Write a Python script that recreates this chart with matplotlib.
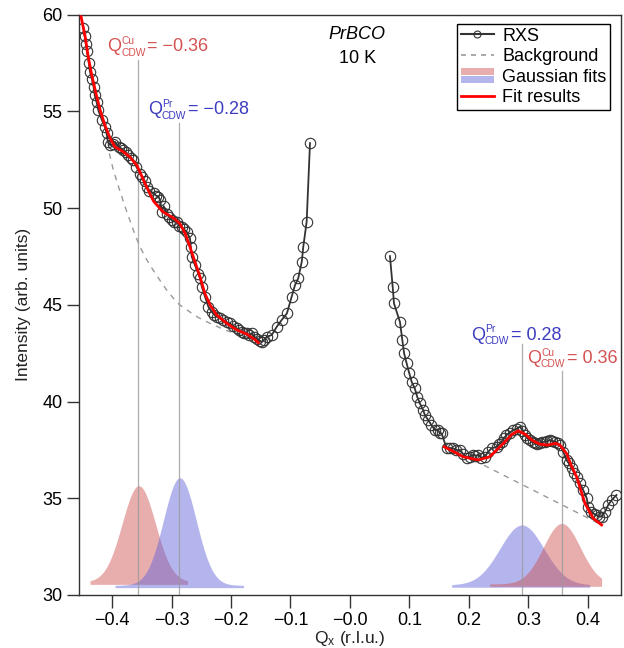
import numpy as np
import matplotlib
matplotlib.use("Agg")
import matplotlib.pyplot as plt
from matplotlib.lines import Line2D
from matplotlib.patches import Patch, Rectangle
from matplotlib.legend_handler import HandlerBase
from matplotlib.transforms import offset_copy

plt.rcParams['font.family'] = ['Liberation Sans', 'DejaVu Sans']
plt.rcParams['mathtext.fontset'] = 'custom'
plt.rcParams['mathtext.rm'] = 'Liberation Sans'
plt.rcParams['mathtext.it'] = 'Liberation Sans:italic'

# RXS data, negative side
q_neg = [-0.448, -0.446, -0.444, -0.442, -0.439, -0.437, -0.434, -0.431, -0.429, -0.426,
         -0.423, -0.417, -0.412, -0.409, -0.407, -0.403, -0.399, -0.395, -0.389, -0.385,
         -0.381, -0.377, -0.373, -0.368, -0.364, -0.359, -0.353, -0.349, -0.345, -0.341,
         -0.337, -0.330, -0.326, -0.322, -0.319, -0.3165, -0.313, -0.308, -0.304, -0.300,
         -0.296, -0.291, -0.287, -0.283, -0.279, -0.2745, -0.269, -0.2675, -0.266, -0.2605,
         -0.255, -0.252, -0.249, -0.2437, -0.238, -0.2324, -0.228, -0.224, -0.219, -0.213,
         -0.207, -0.2017, -0.196, -0.190, -0.186, -0.182, -0.178, -0.1736, -0.169, -0.165,
         -0.161, -0.157, -0.152, -0.148, -0.144, -0.140, -0.1316, -0.123, -0.115, -0.106,
         -0.098, -0.0924, -0.087, -0.081, -0.0785, -0.0728, -0.0672]
i_neg = [59.3, 58.9, 58.5, 58.1, 57.5, 57.05, 56.7, 56.27, 55.84, 55.5,
         55.06, 54.55, 54.2, 53.86, 53.43, 53.26, 53.3, 53.43, 53.17, 53.1,
         53.0, 52.9, 52.74, 52.6, 52.48, 52.13, 51.79, 51.6, 51.4, 51.1,
         50.9, 50.76, 50.65, 50.6, 50.4, 49.81, 50.1, 49.7, 49.55, 49.4,
         49.3, 49.3, 49.1, 49.04, 48.9, 48.78, 48.44, 48.0, 47.49, 47.05,
         46.62, 46.37, 45.93, 45.42, 44.9, 44.64, 44.5, 44.38, 44.3, 44.21,
         44.1, 44.04, 43.9, 43.78, 43.7, 43.6, 43.55, 43.52, 43.45, 43.52,
         43.35, 43.26, 43.15, 43.09, 43.2, 43.35, 43.44, 43.87, 44.21, 44.56,
         45.42, 46.02, 46.37, 47.23, 48.0, 49.3, 53.36]

# RXS data, positive side
q_pos = [0.0672, 0.0718, 0.074, 0.084, 0.088, 0.091, 0.0953, 0.0997, 0.1037, 0.109,
         0.113, 0.1176, 0.123, 0.126, 0.1316, 0.137, 0.143, 0.148, 0.151, 0.154,
         0.1625, 0.168, 0.1736, 0.179, 0.185, 0.19, 0.196, 0.201, 0.207, 0.211,
         0.2156, 0.221, 0.227, 0.232, 0.238, 0.2466, 0.251, 0.255, 0.259, 0.263,
         0.269, 0.2745, 0.280, 0.2857, 0.290, 0.294, 0.298, 0.3025, 0.307, 0.311,
         0.315, 0.319, 0.323, 0.328, 0.332, 0.336, 0.340, 0.3445, 0.349, 0.353,
         0.3585, 0.364, 0.368, 0.3726, 0.377, 0.381, 0.3866, 0.392, 0.398, 0.4005,
         0.406, 0.410, 0.4146, 0.419, 0.423, 0.4286, 0.434, 0.44, 0.448]
i_pos = [47.52, 45.93, 45.07, 44.12, 43.18, 42.49, 41.97, 41.46, 41.02, 40.68,
         40.25, 39.9, 39.56, 39.3, 39.04, 38.78, 38.53, 38.53, 38.36, 38.36,
         37.58, 37.6, 37.58, 37.5, 37.49, 37.3, 37.06, 37.15, 37.24, 37.2,
         37.24, 37.1, 37.15, 37.4, 37.58, 37.66, 37.8, 37.92, 38.1, 38.27,
         38.4, 38.53, 38.6, 38.7, 38.5, 38.27, 38.1, 38.01, 37.9, 37.84,
         37.8, 37.84, 37.9, 37.92, 37.95, 38.01, 37.95, 37.92, 37.85, 37.75,
         37.41, 36.98, 36.8, 36.55, 36.3, 36.11, 35.77, 35.43, 35.0, 34.56,
         34.3, 34.2, 34.13, 34.05, 34.05, 34.3, 34.65, 34.91, 35.17]

# fit results
fit_q_neg = [-0.452, -0.445, -0.440, -0.434, -0.427, -0.420, -0.412, -0.403, -0.395, -0.381,
             -0.370, -0.358, -0.342, -0.330, -0.314, -0.297, -0.286, -0.277, -0.269, -0.2605,
             -0.252, -0.244, -0.235, -0.224, -0.207, -0.190, -0.1736, -0.160, -0.154]
fit_i_neg = [59.9, 58.85, 57.82, 56.87, 55.93, 55.07, 54.29, 53.6, 53.17, 52.91,
             52.65, 52.2, 51.1, 50.35, 49.8, 49.5, 49.2, 48.69, 48.0, 47.22,
             46.45, 45.59, 44.99, 44.47, 44.04, 43.7, 43.49, 43.21, 43.04]
fit_q_pos = [0.1585, 0.175, 0.19, 0.2156, 0.235, 0.2466, 0.258, 0.272, 0.283, 0.295,
             0.306, 0.319, 0.332, 0.345, 0.353, 0.364, 0.372, 0.381, 0.395, 0.409, 0.423]
fit_i_pos = [37.66, 37.4, 37.15, 36.98, 37.15, 37.5, 37.84, 38.3, 38.49, 38.3,
             38.0, 37.8, 37.75, 37.84, 37.75, 37.32, 36.7, 36.11, 34.74, 33.96, 33.62]

# background
bg_q_neg = [-0.4045, -0.398, -0.389, -0.381, -0.375, -0.368, -0.361, -0.353, -0.342, -0.331,
            -0.319, -0.308, -0.297, -0.286, -0.270, -0.257, -0.235, -0.210, -0.180, -0.151]
bg_i_neg = [52.83, 52.0, 51.1, 50.35, 49.8, 49.2, 48.6, 48.0, 47.35, 46.8,
            46.25, 45.76, 45.35, 44.99, 44.65, 44.38, 44.04, 43.7, 43.4, 43.1]
bg_q_pos = [0.1585, 0.423]
bg_i_pos = [37.75, 33.62]

# gaussian fits: centre, sigma, amplitude, baseline, start, end
g_center = [-0.355, -0.286, 0.289, 0.356]
g_sigma = [0.028, 0.0275, 0.037, 0.031]
g_amp = [4.98, 5.56, 3.10, 3.13]
g_base = [30.67, 30.50, 30.52, 30.57]
g_start = [-0.437, -0.395, 0.171, 0.235]
g_end = [-0.273, -0.179, 0.403, 0.423]
g_kind = ['Cu', 'Pr', 'Pr', 'Cu']

# marker lines
vline_q = [-0.356, -0.287, 0.289, 0.356]
vline_top = [57.66, 54.4, 43.0, 41.6]

# labels of the CDW positions
lab_q = [-0.408, -0.340, 0.203, 0.297]
lab_i = [58.1, 54.85, 43.2, 42.0]
lab_sup = ['Cu', 'Pr', 'Pr', 'Cu']
lab_val = ['= \u22120.36', '= \u22120.28', '= 0.28', '= 0.36']

red_fill = (0.80, 0.30, 0.30)
blue_fill = (0.36, 0.36, 0.85)
red_txt = '#d65252'
blue_txt = '#3c3cc0'
dark = '#333333'
FS = 13
SFS = 7.4

fig = plt.figure(figsize=(6.24, 6.48), dpi=100)
ax = fig.add_axes([0.1266, 0.0818, 0.8685, 0.8955])

for c, s, a, b, x0, x1, k in zip(g_center, g_sigma, g_amp, g_base, g_start, g_end, g_kind):
    xx = np.linspace(x0, x1, 200)
    yy = b + a * np.exp(-0.5 * ((xx - c) / s) ** 2)
    col = red_fill if k == 'Cu' else blue_fill
    ax.fill_between(xx, b - 0.12, yy, color=col, alpha=0.45, lw=0, zorder=1)

for q, t in zip(vline_q, vline_top):
    ax.plot([q, q], [30, t], color='#999999', lw=0.9, alpha=0.8, zorder=2)

ax.plot(bg_q_neg, bg_i_neg, ls=(0, (4, 4)), color='#999999', lw=1, zorder=3)
ax.plot(bg_q_pos, bg_i_pos, ls=(0, (4, 4)), color='#999999', lw=1, zorder=3)

for qq, ii in ((q_neg, i_neg), (q_pos, i_pos)):
    ax.plot(qq, ii, color=dark, lw=1.3, marker='o', ms=7.5, mfc='none',
            mec=dark, mew=0.8, zorder=4)

ax.plot(fit_q_neg, fit_i_neg, color='red', lw=2, zorder=5)
ax.plot(fit_q_pos, fit_i_pos, color='red', lw=2, zorder=5)

ax.set_xlim(-0.4555, 0.4555)
ax.set_ylim(30, 60)
ticks = np.arange(-0.4, 0.41, 0.1)
ax.set_xticks(ticks)
ax.set_xticklabels([f"{v:.1f}".replace('-', '\u2212') for v in ticks])
ax.set_yticks(range(30, 61, 5))
ax.tick_params(direction='out', length=9, width=1, color=dark, labelsize=FS, pad=3)
for sp in ax.spines.values():
    sp.set_color(dark)
    sp.set_linewidth(1)

ax.set_xlabel(r'$\mathregular{Q_x}$ (r.l.u.)', fontsize=FS - 0.5, labelpad=0, color='#222222')
ax.set_ylabel('Intensity (arb. units)', fontsize=FS - 0.5, labelpad=8, color='#222222')

ax.text(0.012, 58.75, 'PrBCO', style='italic', fontsize=FS, ha='center', va='baseline')
ax.text(0.012, 57.5, '10 K', fontsize=FS, ha='center', va='baseline')

# Q^{sup}_{CDW} = value, built from pieces so the indices stay small
q_adv = 0.778 * FS + 0.3
sub_w = 2.39 * SFS + 0.8
for q, i, sup, val, k in zip(lab_q, lab_i, lab_sup, lab_val, lab_sup):
    col = red_txt if k == 'Cu' else blue_txt
    ax.text(q, i, 'Q', color=col, fontsize=FS, va='baseline', clip_on=False)
    ax.text(q, i, sup, color=col, fontsize=SFS, va='baseline',
            transform=offset_copy(ax.transData, fig=fig, x=q_adv, y=5.3, units='points'))
    ax.text(q, i, 'CDW', color=col, fontsize=SFS, va='baseline',
            transform=offset_copy(ax.transData, fig=fig, x=q_adv - 0.5, y=-3.1, units='points'))
    ax.text(q, i, val, color=col, fontsize=FS, va='baseline',
            transform=offset_copy(ax.transData, fig=fig, x=q_adv + sub_w, y=0, units='points'))


class StackHandler(HandlerBase):
    def create_artists(self, legend, orig_handle, xdescent, ydescent, width, height, fontsize, trans):
        h = height * 0.6
        y0 = -ydescent + height / 2
        top = Rectangle((-xdescent, y0 + 0.05 * h), width, h * 0.9, facecolor=red_fill,
                        alpha=0.45, lw=0, transform=trans)
        bot = Rectangle((-xdescent, y0 - h * 0.95), width, h * 0.9, facecolor=blue_fill,
                        alpha=0.45, lw=0, transform=trans)
        return [top, bot]


h_rxs = Line2D([], [], color=dark, lw=1.5, marker='o', ms=5, mfc='none', mec=dark, mew=0.8)
h_bg = Line2D([], [], color='#999999', lw=1.2, ls=(0, (3, 3)))
h_g = Patch()
h_fit = Line2D([], [], color='red', lw=2)
leg = ax.legend([h_rxs, h_bg, h_g, h_fit], ['RXS', 'Background', 'Gaussian fits', 'Fit results'],
                handler_map={h_g: StackHandler()}, loc='upper right',
                bbox_to_anchor=(0.98, 0.984), fontsize=FS, frameon=True, fancybox=False,
                edgecolor='black', framealpha=1, borderpad=0.2, labelspacing=0.2,
                handlelength=1.85, handletextpad=0.45, borderaxespad=0)
leg.get_frame().set_linewidth(1)

fig.savefig('out.png', dpi=100)
